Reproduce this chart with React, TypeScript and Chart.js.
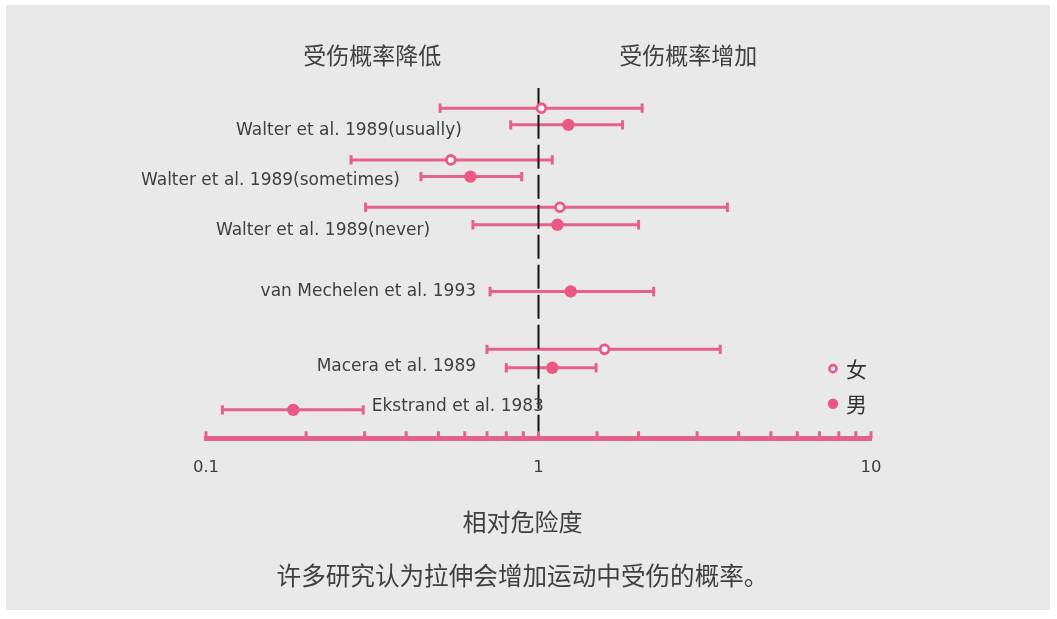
import { useEffect, useRef } from "react";
import { Chart, registerables } from "chart.js";

Chart.register(...registerables);

// studies, in the order they appear from top to bottom
const studyNames = [
    'Walter et al. 1989(usually)',
    'Walter et al. 1989(sometimes)',
    'Walter et al. 1989(never)',
    'van Mechelen et al. 1993',
    'Macera et al. 1989',
    'Ekstrand et al. 1983',
];
// relative risk where each study label ends (or starts, for the last one)
const labelAnchor = [0.588, 0.383, 0.472, 0.649, 0.649, 0.315];
const labelLevel = [17.6, 14.75, 11.85, 8.4, 4.1, 1.85];

// one row per estimate
const rowSex = ['女', '男', '女', '男', '女', '男', '男', '女', '男', '男'];
const rowLevel = [18.85, 17.9, 15.9, 14.95, 13.2, 12.2, 8.4, 5.1, 4.05, 1.65];
const relRisk = [1.02, 1.23, 0.545, 0.624, 1.16, 1.14, 1.25, 1.58, 1.10, 0.183];
const ciLow = [0.506, 0.825, 0.273, 0.443, 0.302, 0.635, 0.715, 0.70, 0.80, 0.112];
const ciHigh = [2.05, 1.79, 1.10, 0.89, 3.70, 2.0, 2.22, 3.52, 1.49, 0.297];

const xTickLabels = [0.1, 1, 10];
const sideHeaders = ['受伤概率降低', '受伤概率增加'];
const headerAt = [0.316, 2.82];
const legendNames = ['女', '男'];
const legendLevel = [4, 2];
const axisTitle = '相对危险度';
const caption = '许多研究认为拉伸会增加运动中受伤的概率。';

const PINK = '#E6618A';
const DOT = '#EB5883';
const BG = '#E9E9E9';
const TEXT = '#404040';
const LATIN = '"DejaVu Sans", sans-serif';
const CJK = '"Noto Sans CJK SC", sans-serif';

const decorations = {
    id: 'decorations',
    afterDatasetsDraw(chart: any) {
        const { ctx, chartArea, scales: { x, y } } = chart;
        ctx.save();

        // upward tick marks on the axis line
        ctx.strokeStyle = PINK;
        ctx.lineWidth = 3;
        x.ticks.forEach((t: any) => {
            const px = x.getPixelForValue(t.value);
            ctx.beginPath();
            ctx.moveTo(px, chartArea.bottom);
            ctx.lineTo(px, chartArea.bottom - 7.5);
            ctx.stroke();
        });

        // study labels
        ctx.fillStyle = TEXT;
        ctx.font = `17px ${LATIN}`;
        ctx.textBaseline = 'middle';
        studyNames.forEach((name, i) => {
            ctx.textAlign = i === studyNames.length - 1 ? 'left' : 'right';
            ctx.fillText(name, x.getPixelForValue(labelAnchor[i]), y.getPixelForValue(labelLevel[i]));
        });

        // headers over the two halves
        ctx.font = `23px ${CJK}`;
        ctx.textAlign = 'center';
        sideHeaders.forEach((h, i) => {
            ctx.fillText(h, x.getPixelForValue(headerAt[i]), chartArea.top - 33);
        });

        // axis title and caption under the axis
        const cx = (chartArea.left + chartArea.right) / 2 - 16;
        ctx.font = `24px ${CJK}`;
        ctx.fillText(axisTitle, cx, chartArea.bottom + 83);
        ctx.font = `24.6px ${CJK}`;
        ctx.fillText(caption, cx, chartArea.bottom + 137);

        // legend
        const lx = chartArea.right - 38;
        legendNames.forEach((name, i) => {
            const ly = y.getPixelForValue(legendLevel[i]);
            ctx.beginPath();
            if (i === 0) {
                ctx.arc(lx, ly, 3.5, 0, Math.PI * 2);
                ctx.fillStyle = '#F4F4F4';
                ctx.fill();
                ctx.strokeStyle = DOT;
                ctx.lineWidth = 2.6;
                ctx.stroke();
            } else {
                ctx.arc(lx, ly, 5.2, 0, Math.PI * 2);
                ctx.fillStyle = DOT;
                ctx.fill();
            }
            ctx.fillStyle = '#333333';
            ctx.font = `21px ${CJK}`;
            ctx.textAlign = 'left';
            ctx.fillText(name, lx + 13, ly);
        });

        ctx.restore();
    }
};

const ForestPlot = () => {
    const canvasRef = useRef<HTMLCanvasElement>(null);

    useEffect(() => {
        const canvas = canvasRef.current;
        if (!canvas) return;

        const whiskers = rowLevel.map((lvl, i) => ({
            type: 'scatter' as const,
            data: [{ x: ciLow[i], y: lvl }, { x: ciHigh[i], y: lvl }],
            showLine: true,
            borderColor: PINK,
            borderWidth: 3,
            pointStyle: 'line' as const,
            rotation: 90,
            pointRadius: 4.7,
            pointBorderWidth: 3,
            pointBorderColor: PINK,
            order: 2,
        }));

        const pick = (sex: string) => rowLevel
            .map((lvl, i) => ({ x: relRisk[i], y: lvl, s: rowSex[i] }))
            .filter(p => p.s === sex)
            .map(p => ({ x: p.x, y: p.y }));

        const chart = new Chart(canvas, {
            type: 'scatter',
            data: {
                datasets: [
                    {
                        label: '女',
                        data: pick('女'),
                        pointStyle: 'circle',
                        pointRadius: 4.4,
                        pointBorderWidth: 2.8,
                        pointBorderColor: DOT,
                        pointBackgroundColor: '#F4F4F4',
                        order: 0,
                    },
                    {
                        label: '男',
                        data: pick('男'),
                        pointStyle: 'circle',
                        pointRadius: 6.2,
                        pointBorderWidth: 0,
                        pointBackgroundColor: DOT,
                        order: 0,
                    },
                    {
                        label: 'ref',
                        data: [{ x: 1, y: 0 }, { x: 1, y: 20 }],
                        showLine: true,
                        borderColor: '#111111',
                        borderWidth: 2,
                        borderDash: [24, 6],
                        pointRadius: 0,
                        order: 1,
                    },
                    ...whiskers,
                ] as any,
            },
            options: {
                responsive: true,
                maintainAspectRatio: false,
                animation: false,
                events: [],
                layout: { padding: { left: 200, right: 179, top: 83, bottom: 113.8 } },
                plugins: {
                    legend: { display: false },
                    tooltip: { enabled: false },
                },
                scales: {
                    x: {
                        type: 'logarithmic',
                        min: 0.1,
                        max: 10,
                        position: 'bottom',
                        grid: { display: false, drawTicks: false },
                        border: { display: true, color: PINK, width: 5 },
                        ticks: {
                            autoSkip: false,
                            maxRotation: 0,
                            padding: 18.8,
                            color: TEXT,
                            font: { family: LATIN, size: 16.5 },
                            callback: (value: any) => {
                                const v = Number(value);
                                const hit = xTickLabels.find(t => Math.abs(t - v) < t * 1e-6);
                                return hit === undefined ? '' : String(hit);
                            },
                        },
                    },
                    y: { type: 'linear', min: 0, max: 20, display: false },
                },
            },
            plugins: [decorations],
        });

        return () => {
            chart.destroy();
        };
    }, []);

    return (
        <div style={{ position: 'absolute', left: 6, top: 5, width: 1044, height: 605, background: BG }}>
            <canvas ref={canvasRef}></canvas>
        </div>
    );
};

export default function App() {
    return <ForestPlot />;
}
